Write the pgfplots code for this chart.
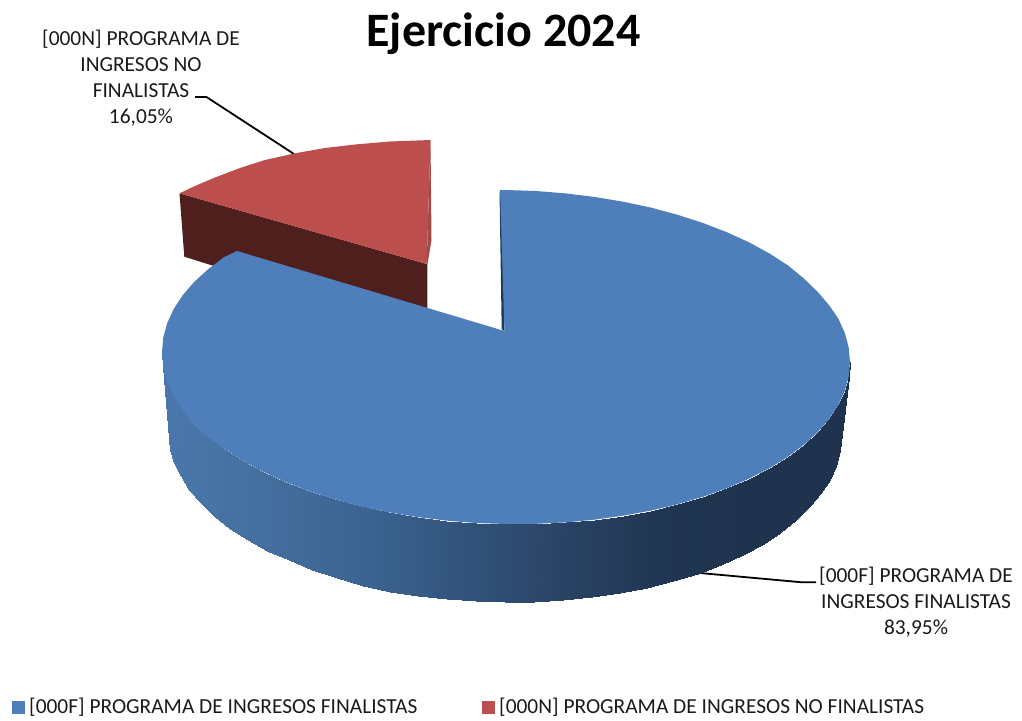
\documentclass[border=0pt]{standalone}
\usepackage{fontspec}
\setmainfont{Carlito}
\usepackage{pgfplots}
\pgfplotsset{compat=1.18}
\definecolor{pieblue}{HTML}{4F7FBB}
\definecolor{piered}{HTML}{BC4F4D}
\definecolor{redside}{HTML}{4E1F1C}
\definecolor{redthin}{HTML}{A04A48}
\definecolor{bluethin}{HTML}{1F3A5C}
\definecolor{lbl}{HTML}{1A1A1A}
\newcommand{\lblfont}{\fontsize{21.4}{26}\selectfont\color{lbl}}

\begin{document}
\begin{tikzpicture}
\begin{axis}[
    scale only axis,
    width=1022pt, height=720pt,
    xmin=0, xmax=1022,
    ymin=0, ymax=720,
    y dir=reverse,
    hide axis,
    clip=false,
    colormap={sidefade}{rgb255=(74,119,171) rgb255=(68,110,158) rgb255=(60,100,146)
        rgb255=(50,84,124) rgb255=(42,68,102) rgb255=(33,54,83) rgb255=(31,51,78) rgb255=(31,51,78)},
    point meta min=169, point meta max=850,
]
% keeps the page at the full frame, hide axis alone crops it to the ink
\addplot[draw=none, forget plot] coordinates {(0,0) (1022,720)};

% leader lines
\addplot[black, line width=1.8pt, forget plot] coordinates {(294,154) (206.5,97) (195,97)};
\addplot[black, line width=1.8pt, forget plot] coordinates {(696.7,572.7) (802,582.3) (816,582.3)};

% 000N slice, 16.05 %: side, thin edge, top
\addplot[fill=redside, draw=none, forget plot] coordinates {
    (179.5,193.3) (426.7,264) (427.3,264) (427.3,309) (300,290) (213,265.7) (184.3,256.7)} -- cycle;
\addplot[fill=redthin, draw=none, forget plot] coordinates {
    (430.5,140) (431.5,240) (427.5,264) (426.7,264)} -- cycle;
\addplot[fill=piered, draw=none, forget plot] coordinates {
    (179.5,193.3) (195,186) (215,177.5) (240,168) (265,160) (295,153.3) (325,148)
    (355,144.5) (390,141.5) (430.5,140) (426.7,264)} -- cycle;

% 000F slice, 83.95 %: rim as pairs of upper and lower edge
\addplot[surf, shader=interp, mesh/rows=37, point meta=x, forget plot] table {
x y
850 362
841 440
848.7 376.6
839.7 451
844.8 390.9
835.9 466
838.3 405
829.5 480
829.3 418.8
820.7 493
817.8 432.1
809.5 506
803.9 444.8
796 519.5
787.8 456.9
780.3 532.5
769.5 468.1
762.4 544.5
749.2 478.6
742.6 555.2
727.1 488.1
721 565
703.3 496.7
697.7 574
678 504.1
673 581.4
651.4 510.5
647 587.7
623.6 515.6
619.9 593
595 519.6
592 597
565.7 522.4
563.3 599.9
536 523.8
534.3 601.6
506 524
505 602
476 523
475.7 601.2
446.3 520.6
446.7 599.3
417 517
418 596
388.4 512.2
390.1 591.6
360.6 506.3
363 586.1
334 499.1
337 578
308.7 490.9
312.3 569.5
284.9 481.7
289 560
262.8 471.6
267.4 551
242.5 460.5
247.6 540
224.2 448.7
229.7 528.5
208.1 436.2
214 516
194.2 423.1
200.5 503
182.7 409.4
189.3 489.5
173.7 395.4
180.5 476
167.2 381.1
174.1 462.5
163.3 366.6
170.3 449.5
162 352
169 439
};
% dark cut edge beside the gap
\addplot[fill=bluethin, draw=none, forget plot] coordinates {
    (499.5,191) (501.7,329) (504.5,331.5) (502,200)} -- cycle;
% top face
\addplot[fill=pieblue, draw=none, forget plot] coordinates {
    (500,190) (506,190) (536,191) (565.7,193.4) (595,197) (623.6,201.8) (651.4,207.7)
    (678,214.9) (703.3,223.1) (727.1,232.3) (749.2,242.4) (769.5,253.5) (787.8,265.3)
    (803.9,278.5) (817.8,292) (829.3,305.5) (838.3,318.6) (844.8,332.9) (848.7,347.4)
    (850,362) (848.7,376.6) (844.8,390.9) (838.3,405) (829.3,418.8) (817.8,432.1)
    (803.9,444.8) (787.8,456.9) (769.5,468.1) (749.2,478.6) (727.1,488.1) (703.3,496.7)
    (678,504.1) (651.4,510.5) (623.6,515.6) (595,519.6) (565.7,522.4) (536,523.8) (506,524)
    (476,523) (446.3,520.6) (417,517) (388.4,512.2) (360.6,506.3) (334,499.1) (308.7,490.9)
    (284.9,481.7) (262.8,471.6) (242.5,460.5) (224.2,448.7) (208.1,437) (194.2,425)
    (182.7,410) (173.7,395.4) (167.2,381.1) (163.3,366.6) (162,352) (163.3,337.4)
    (167.2,323.1) (173.7,309) (182.7,295.2) (194.2,281.9) (208.1,269.2) (224.2,257.1)
    (237,251) (504.5,331)} -- cycle;

% legend keys
\addplot[only marks, mark=square*, mark size=6pt, mark options={draw=pieblue, line width=0pt, fill=pieblue}, forget plot]
    coordinates {(18,707)};
\addplot[only marks, mark=square*, mark size=6pt, mark options={draw=piered, line width=0pt, fill=piered}, forget plot]
    coordinates {(488,707)};

\node[font=\fontsize{48}{56}\selectfont\bfseries, anchor=base] at (axis cs:503.5,46) {Ejercicio 2024};
\node[font=\lblfont, anchor=base] at (axis cs:141,45) {[000N] PROGRAMA DE};
\node[font=\lblfont, anchor=base] at (axis cs:141,71) {INGRESOS NO};
\node[font=\lblfont, anchor=base] at (axis cs:141,97) {FINALISTAS};
\node[font=\lblfont, anchor=base] at (axis cs:141,123) {16,05\%};
\node[font=\lblfont, anchor=base] at (axis cs:916,582.5) {[000F] PROGRAMA DE};
\node[font=\lblfont, anchor=base] at (axis cs:916,608.5) {INGRESOS FINALISTAS};
\node[font=\lblfont, anchor=base] at (axis cs:916,634.5) {83,95\%};
\node[font=\lblfont, anchor=base west, inner sep=0pt] at (axis cs:29,713) {[000F] PROGRAMA DE INGRESOS FINALISTAS};
\node[font=\lblfont, anchor=base west, inner sep=0pt] at (axis cs:499,713) {[000N] PROGRAMA DE INGRESOS NO FINALISTAS};
\end{axis}
\end{tikzpicture}
\end{document}
